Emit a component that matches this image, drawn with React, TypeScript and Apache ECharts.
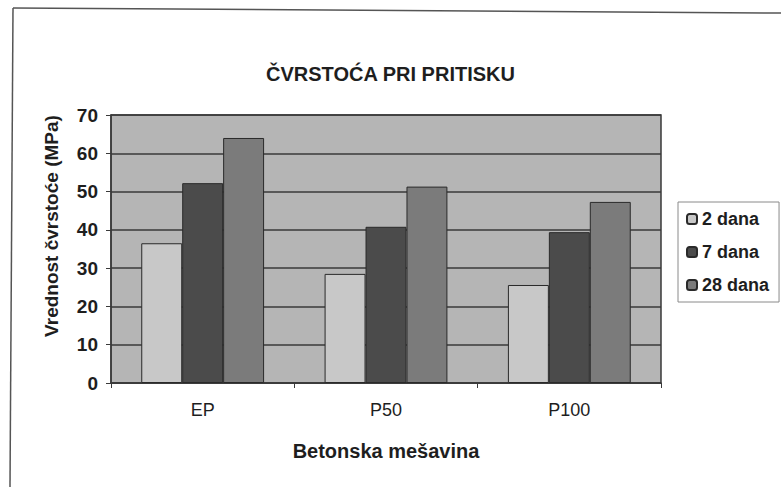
import React, { useEffect, useRef } from "react";
import * as echarts from "echarts";

const categories = ["EP", "P50", "P100"];
const seriesNames = ["2 dana", "7 dana", "28 dana"];
const dana2 = [36.5, 28.5, 25.6];
const dana7 = [52.2, 40.8, 39.4];
const dana28 = [64.0, 51.3, 47.3];
const yTicks = [0, 10, 20, 30, 40, 50, 60, 70];

const FONT = "'Liberation Sans', Arial, sans-serif";

export default function App() {
  const ref = useRef<HTMLDivElement>(null);
  useEffect(() => {
    if (!ref.current) return;
    const chart = echarts.init(ref.current, undefined, { renderer: "svg" });
    const colors = ["#c8c8c8", "#4b4b4b", "#7b7b7b"];
    const values = [dana2, dana7, dana28];
    chart.setOption({
      animation: false,
      backgroundColor: "#ffffff",
      textStyle: { fontFamily: FONT },
      title: {
        text: "ČVRSTOĆA PRI PRITISKU",
        left: "center",
        top: 59,
        textStyle: { fontFamily: FONT, fontSize: 20, fontWeight: "bold", color: "#1e1e1e" },
      },
      legend: {
        orient: "vertical",
        left: 678,
        top: 202,
        data: seriesNames,
        itemWidth: 10,
        itemHeight: 10,
        itemGap: 15,
        padding: [8, 10, 8, 8],
        borderColor: "#8a8a8a",
        borderWidth: 1,
        backgroundColor: "#ffffff",
        textStyle: { fontFamily: FONT, fontSize: 18, fontWeight: "bold", color: "#1e1e1e" },
      },
      grid: {
        left: 111,
        right: 120,
        top: 115,
        bottom: 104,
        show: true,
        backgroundColor: "#b5b5b5",
        borderColor: "#3a3a3a",
        borderWidth: 1.5,
      },
      xAxis: {
        type: "category",
        data: categories,
        name: "Betonska mešavina",
        nameLocation: "middle",
        nameGap: 58,
        nameTextStyle: { fontFamily: FONT, fontSize: 20, fontWeight: "bold", color: "#1e1e1e" },
        axisLine: { lineStyle: { color: "#3a3a3a", width: 1.5 } },
        axisTick: { show: true, length: 5, lineStyle: { color: "#3a3a3a" } },
        axisLabel: { fontFamily: FONT, fontSize: 18, color: "#1e1e1e", margin: 18 },
      },
      yAxis: {
        type: "value",
        min: yTicks[0],
        max: yTicks[yTicks.length - 1],
        interval: 10,
        name: "Vrednost čvrstoće (MPa)",
        nameLocation: "middle",
        nameGap: 50,
        nameTextStyle: {
          fontFamily: FONT,
          fontSize: 19,
          fontWeight: "bold",
          color: "#1e1e1e",
          padding: [0, 0, 0, 46],
        },
        axisLine: { show: true, lineStyle: { color: "#3a3a3a", width: 1.5 } },
        axisTick: { show: true, length: 5, lineStyle: { color: "#3a3a3a" } },
        axisLabel: { fontFamily: FONT, fontSize: 19, fontWeight: "bold", color: "#1e1e1e", margin: 13 },
        splitLine: { show: true, lineStyle: { color: "#3a3a3a", width: 1.5 } },
      },
      graphic: [
        {
          type: "line",
          shape: { x1: 13, y1: 8, x2: 781, y2: 13 },
          style: { stroke: "#555555", lineWidth: 1.5 },
          silent: true,
        },
        {
          type: "line",
          shape: { x1: 13, y1: 8, x2: 10, y2: 487 },
          style: { stroke: "#555555", lineWidth: 1.5 },
          silent: true,
        },
      ],
      series: seriesNames.map((name, i) => ({
        name,
        type: "bar",
        data: values[i],
        barGap: "0%",
        barCategoryGap: "33%",
        itemStyle: { color: colors[i], borderColor: "#2a2a2a", borderWidth: 1 },
      })),
    });
    return () => chart.dispose();
  }, []);
  return <div ref={ref} style={{ width: 781, height: 487, position: "absolute", left: 0, top: 0 }} />;
}
